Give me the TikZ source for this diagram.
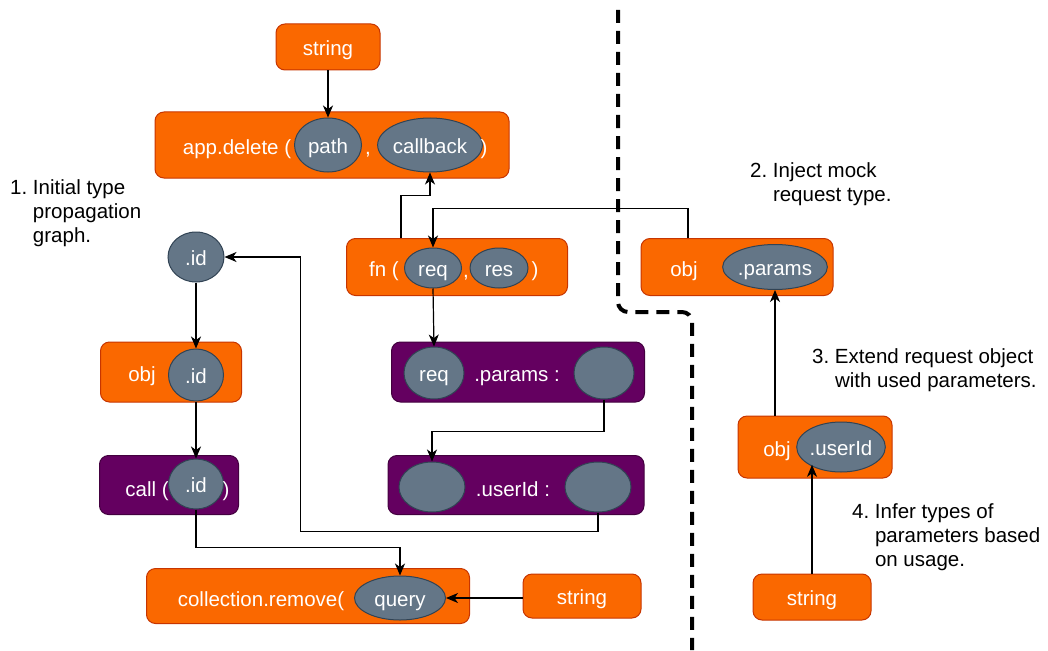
\documentclass[tikz,border=0pt]{standalone}
\usepackage{fontspec}
\setmainfont{Liberation Sans}
\usetikzlibrary{shapes.geometric,arrows.meta}

\definecolor{ornfill}{HTML}{FA6800}
\definecolor{ornline}{HTML}{C73500}
\definecolor{prpfill}{HTML}{640060}
\definecolor{prpline}{HTML}{43003F}
\definecolor{slotfill}{HTML}{647687}
\definecolor{slotline}{HTML}{314354}

\tikzset{
  obox/.style={draw=ornline, fill=ornfill, rounded corners=9pt, line width=1pt, inner sep=0pt},
  pbox/.style={obox, draw=prpline, fill=prpfill},
  slot/.style={ellipse, draw=slotline, fill=slotfill, line width=1pt, inner sep=0pt, text=white, text height=18pt, text depth=1pt},
  lbl/.style={inner sep=0pt, text=white, text height=18pt, text depth=1pt},
  note/.style={anchor=base west, inner sep=0pt},
  flow/.style={line width=1.2pt, -{Stealth[length=12pt,width=10pt,inset=3.5pt]}},
  divider/.style={line width=4pt, dash pattern=on 13pt off 8pt, rounded corners=10pt}
}

\begin{document}
\begin{tikzpicture}[x=1pt,y=-1pt,font=\fontsize{20.5}{24}\selectfont]
\useasboundingbox (0,0) rectangle (1048,650);

% split between the two phases
\draw[divider] (618,10) -- (618,312) -- (692,312) -- (692,650);

% handler registration
\node[obox, minimum width=104, minimum height=46] (strtop) at (328,47) {};
\node[lbl] (strtoptxt) at (strtop) {string};
\node[obox, minimum width=354, minimum height=66] (appdel) at (332,145) {};
\node[lbl] (appdeltxt) at (237,146) {app.delete (};
\node[slot, minimum width=67, minimum height=54] (path) at (328,145) {path};
\node[lbl] (comma1) at (368,146) {,};
\node[slot, minimum width=96, minimum height=54] (callback) at (430,145) {callback};
\node[lbl] (close1) at (484,146) {)};

\node[obox, minimum width=221, minimum height=57] (fnbox) at (457,267) {};
\node[lbl] (fntxt) at (384,268) {fn (};
\node[slot, minimum width=57, minimum height=40] (req) at (433,268) {req};
\node[lbl] (comma2) at (466,269) {,};
\node[slot, minimum width=58, minimum height=40] (res) at (499,268) {res};
\node[lbl] (close2) at (535,268) {)};

\node[pbox, minimum width=253, minimum height=60] (rqp) at (518,372) {};
\node[slot, minimum width=60, minimum height=52] (preq) at (434,373) {req};
\node[lbl] (paramstxt) at (517,373) {.params :};
\node[slot, minimum width=60, minimum height=52] (pval) at (604,373) {};

\node[pbox, minimum width=256, minimum height=59] (uid) at (516,485) {};
\node[slot, minimum width=66, minimum height=50] (uobj) at (432,487) {};
\node[lbl] (useridtxt) at (513,488) {.userId :};
\node[slot, minimum width=66, minimum height=50] (uval) at (598,487) {};

% id chain
\node[slot, minimum width=56, minimum height=50] (idtop) at (196,257) {.id};
\node[obox, minimum width=141, minimum height=60] (objid) at (171,372) {};
\node[lbl] (objidtxt) at (142,373) {obj};
\node[slot, minimum width=55, minimum height=52] (oid) at (196,375) {.id};
\node[pbox, minimum width=139, minimum height=59] (call) at (169,485) {};
\node[lbl] (calltxt) at (147,488) {call (};
\node[slot, minimum width=55, minimum height=50] (cid) at (196,484) {.id};
\node[lbl] (close3) at (226,488) {)};

\node[obox, minimum width=323, minimum height=55] (coll) at (308,596) {};
\node[lbl] (colltxt) at (261,598) {collection.remove(};
\node[slot, minimum width=91, minimum height=44] (query) at (400,598) {query};
\node[obox, minimum width=118, minimum height=44] (strbot) at (582,596) {};
\node[lbl] (strbottxt) at (strbot) {string};

% mock request side
\node[obox, minimum width=192, minimum height=57] (objp) at (737,267) {};
\node[lbl] (objptxt) at (684,268) {obj};
\node[slot, minimum width=93, minimum height=45] (params) at (775,267) {.params};
\node[obox, minimum width=154, minimum height=62] (obju) at (815,447) {};
\node[lbl] (objutxt) at (777,448) {obj};
\node[slot, minimum width=82, minimum height=50] (usid) at (841,447) {.userId};
\node[obox, minimum width=118, minimum height=46] (strright) at (812,597) {};
\node[lbl] (strrighttxt) at (strright) {string};

% notes
\node[note] (note1) at (10,194) {\begin{tabular}[t]{@{}l@{\ }l@{}}1. & Initial type\\ & propagation\\ & graph.\end{tabular}};
\node[note] (note2) at (750,177) {\begin{tabular}[t]{@{}l@{\ }l@{}}2. & Inject mock\\ & request type.\end{tabular}};
\node[note] (note3) at (812,363) {\begin{tabular}[t]{@{}l@{\ }l@{}}3. & Extend request object\\ & with used parameters.\end{tabular}};
\node[note] (note4) at (852,518) {\begin{tabular}[t]{@{}l@{\ }l@{}}4. & Infer types of\\ & parameters based\\ & on usage.\end{tabular}};

% connectors
\draw[flow] (strtop.south) -- (path.north);
\draw[flow] ([xshift=-56]fnbox.north) |- ([yshift=-23]callback.south) -- (callback.south);
\draw[flow] ([xshift=-49]objp.north) |- ([yshift=39]req.north) -- (req.north);
\draw[flow] (req.south) -- (preq.north);
\draw[flow] (pval.south) |- ([yshift=30]uobj.north) -- (uobj.north);
\draw[flow] (uval.south) -- ++(0,19) -| ([xshift=76]idtop.east) -- (idtop.east);
\draw[flow] (idtop.south) -- (oid.north);
\draw[flow] (oid.south) -- (cid.north);
\draw[flow] (cid.south) -- ++(0,38) -| (query.north);
\draw[flow] (strbot.west |- query.east) -- (query.east);
\draw[flow] (obju.north -| params.south) -- (params.south);
\draw[flow] (strright.north) -- (strright.north |- usid.209);
\end{tikzpicture}
\end{document}
